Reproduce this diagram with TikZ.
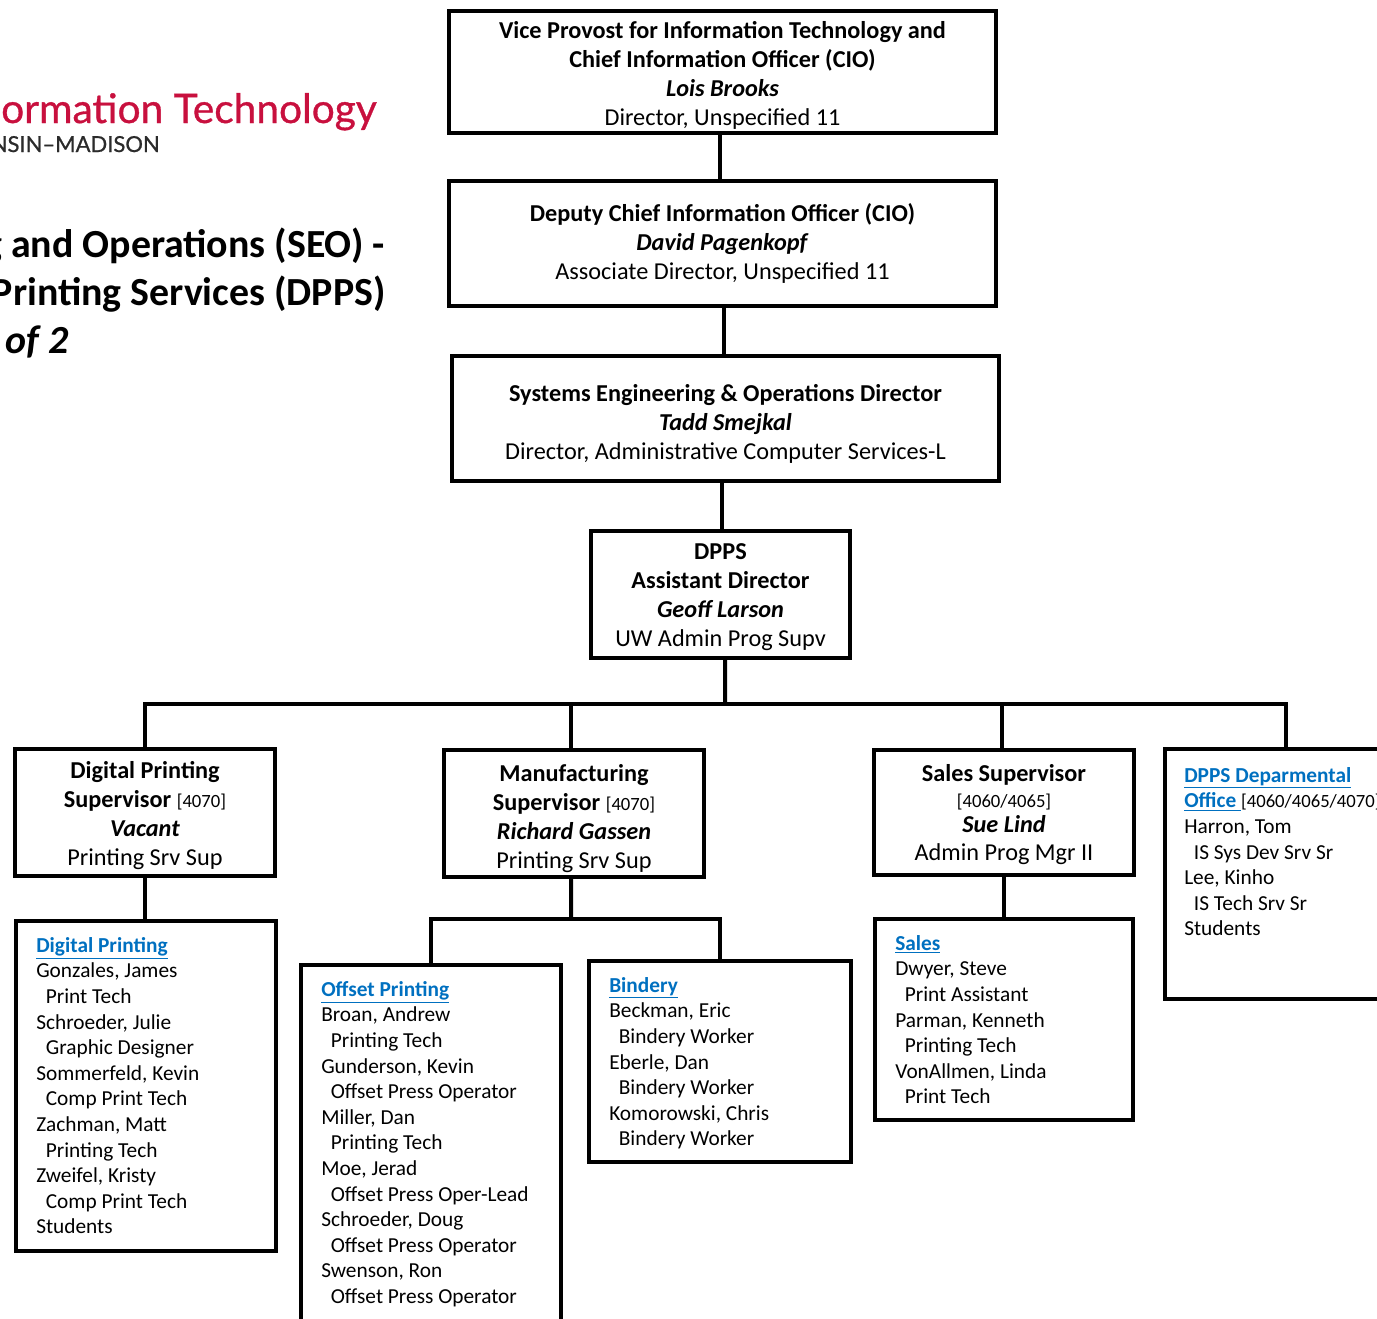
\documentclass[tikz,border=0pt]{standalone}
\usepackage{fontspec}
\setmainfont{Carlito}
\newfontfamily\logofont[FakeBold=0.8]{Lato}
\definecolor{logored}{HTML}{C8103E}
\definecolor{logogray}{HTML}{2B2B2B}
\definecolor{linkblue}{HTML}{0070C0}
\newcommand{\grp}[1]{\textcolor{linkblue}{\textbf{\underline{#1}}}}
\newcommand{\jobln}[1]{\hspace*{7.2pt}#1}
\newcommand{\who}[1]{\textbf{\textit{#1}}}
\newcommand{\code}[1]{{\fontsize{14}{19}\selectfont #1}}
\newcommand{\gap}[1]{\rule{0pt}{#1}}
\tikzset{
  box/.style={rectangle,draw,line width=3pt,outer sep=0pt,inner sep=0pt},
  headbox/.style={box,align=center,font=\fontsize{18.2}{21.75}\selectfont},
  smallbox/.style={headbox,minimum width=195pt},
  listbox/.style={box,minimum width=195pt},
  listtext/.style={anchor=north west,inner sep=0pt,align=left,
    font=\fontsize{16}{19.2}\selectfont,execute at begin node=\strut},
  link/.style={line width=3pt},
  title/.style={anchor=base east,inner sep=0pt,font=\fontsize{29.9}{36}\selectfont\bfseries}
}
\begin{document}
\begin{tikzpicture}[x=.75pt,y=-.75pt]
  \path[use as bounding box,clip] (0,0) rectangle (1377,1318);

%% logo and page title
  \node[anchor=base east,inner sep=0pt,text=logored,font=\logofont\fontsize{30.5}{32}\selectfont] (logo) at (377,123) {ormation Technology};
  \node[anchor=base east,inner sep=0pt,text=logogray,font=\logofont\fontsize{16.5}{18}\selectfont] (uw) at (160,152) {NSIN–MADISON};
  \node[title] (title1) at (385,257) {g and Operations (SEO) -};
  \node[title] (title2) at (386,305) {Printing Services (DPPS)};
  \node[title,font=\fontsize{29.9}{36}\selectfont\bfseries\itshape] (title3) at (69,353) {of 2};

%% director chain
  \node[headbox,minimum width=410.25pt,minimum height=91.5pt] (vp) at (722.5,72)
    {\gap{17.5pt}\textbf{Vice Provost for Information Technology and}\\\textbf{Chief Information Officer (CIO)}\\\who{Lois Brooks}\\Director, Unspecified 11};
  \node[headbox,minimum width=410.25pt,minimum height=93.75pt] (deputy) at (722.5,243.5)
    {\textbf{Deputy Chief Information Officer (CIO)}\\\who{David Pagenkopf}\\Associate Director, Unspecified 11};
  \node[headbox,minimum width=410.25pt,minimum height=93.75pt] (seo) at (725.5,418.5)
    {\gap{21pt}\textbf{Systems Engineering \& Operations Director}\\\who{Tadd Smejkal}\\Director, Administrative Computer Services-L};
  \node[headbox,minimum width=194.25pt,minimum height=95.25pt] (dpps) at (720.5,594.5)
    {\gap{16.5pt}\textbf{DPPS}\\\textbf{Assistant Director}\\\who{Geoff Larson}\\UW Admin Prog Supv};

%% supervisors
  \node[smallbox,minimum height=95.25pt] (digsup) at (145,812.5)
    {\gap{17.8pt}\textbf{Digital Printing}\\\textbf{Supervisor} \code{[4070]}\\\who{Vacant}\\Printing Srv Sup};
  \node[smallbox,minimum height=95.25pt] (mansup) at (574,813.5)
    {\gap{20pt}\textbf{Manufacturing}\\\textbf{Supervisor} \code{[4070]}\\\who{Richard Gassen}\\Printing Srv Sup};
  \node[smallbox,minimum height=93.75pt] (salessup) at (1004,812.5)
    {\gap{16.3pt}\textbf{Sales Supervisor}\\[-2.25pt]\code{[4060/4065]}\\[-3pt]\who{Sue Lind}\\[-.75pt]Admin Prog Mgr II};

%% group boxes
  \node[listbox,minimum height=187.5pt,minimum width=181.5pt] (office) at (1286,874) {};
  \node[listbox,minimum height=247.5pt] (digital) at (146,1086) {};
  \node[listbox,minimum height=285pt] (offset) at (431,1155) {};
  \node[listbox,minimum height=150.75pt,minimum width=196.5pt] (bindery) at (720,1061.5) {};
  \node[listbox,minimum height=150.75pt,minimum width=193.5pt] (sales) at (1004,1019.5) {};

%% group members
  \node[listtext] (officetxt) at (1184,767) {\grp{DPPS Deparmental}\\\grp{Office\ }\code{[4060/4065/4070]}\\Harron, Tom\\\jobln{IS Sys Dev Srv Sr}\\Lee, Kinho\\\jobln{IS Tech Srv Sr}\\Students};
  \node[listtext] (digitaltxt) at (36,937) {\grp{Digital Printing}\\Gonzales, James\\\jobln{Print Tech}\\Schroeder, Julie\\\jobln{Graphic Designer}\\Sommerfeld, Kevin\\\jobln{Comp Print Tech}\\Zachman, Matt\\\jobln{Printing Tech}\\Zweifel, Kristy\\\jobln{Comp Print Tech}\\Students};
  \node[listtext] (offsettxt) at (321,981) {\grp{Offset Printing}\\Broan, Andrew\\\jobln{Printing Tech}\\Gunderson, Kevin\\\jobln{Offset Press Operator}\\Miller, Dan\\\jobln{Printing Tech}\\Moe, Jerad\\\jobln{Offset Press Oper-Lead}\\Schroeder, Doug\\\jobln{Offset Press Operator}\\Swenson, Ron\\\jobln{Offset Press Operator}};
  \node[listtext] (binderytxt) at (609,977) {\grp{Bindery}\\Beckman, Eric\\\jobln{Bindery Worker}\\Eberle, Dan\\\jobln{Bindery Worker}\\Komorowski, Chris\\\jobln{Bindery Worker}};
  \node[listtext] (salestxt) at (895,935) {\grp{Sales}\\Dwyer, Steve\\\jobln{Print Assistant}\\Parman, Kenneth\\\jobln{Printing Tech}\\VonAllmen, Linda\\\jobln{Print Tech}};

%% connections
  \coordinate (bus) at (725,704);
  \coordinate (manbus) at (571,919);
  \draw[link] ([xshift=-1.9pt] vp.south) -- ([xshift=-1.9pt] vp.south |- deputy.north);
  \draw[link] ([xshift=1.1pt] deputy.south) -- ([xshift=1.1pt] deputy.south |- seo.north);
  \draw[link] ([xshift=-2.6pt] seo.south) -- ([xshift=-2.6pt] seo.south |- dpps.north);
  \draw[link] ([xshift=3.4pt] dpps.south) -- (bus);
  \draw[link,line cap=rect] (digsup.north) |- (bus -| office.north) -- (office.north);
  \draw[link] ([xshift=-2.2pt] mansup.north) -- ([xshift=-2.2pt] mansup.north |- bus);
  \draw[link] ([xshift=-1.5pt] salessup.north) -- ([xshift=-1.5pt] salessup.north |- bus);
  \draw[link] (digsup.south) -- (digsup.south |- digital.north);
  \draw[link] (salessup.south) -- (sales.north);
  \draw[link] ([xshift=-2.2pt] mansup.south) -- (manbus);
  \draw[link] (offset.north) |- (manbus) -| (bindery.north);
\end{tikzpicture}
\end{document}
